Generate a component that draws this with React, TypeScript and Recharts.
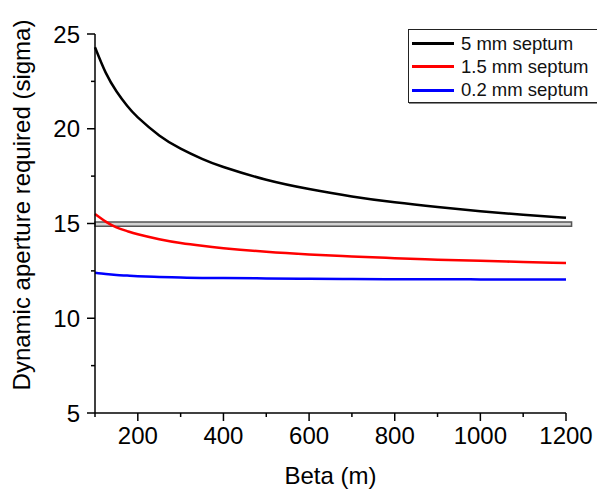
import React from 'react';
import { LineChart, Line, XAxis, YAxis, ReferenceArea } from 'recharts';

const beta = [100, 125, 150, 175, 200, 250, 300, 350, 400, 500, 600, 700, 800, 900, 1000, 1100, 1200];
const septum5 = [24.3, 22.96, 21.98, 21.21, 20.6, 19.65, 18.95, 18.41, 17.98, 17.31, 16.82, 16.43, 16.12, 15.87, 15.65, 15.46, 15.3];
const septum15 = [15.5, 15.1, 14.8, 14.6, 14.43, 14.17, 13.97, 13.82, 13.7, 13.51, 13.37, 13.26, 13.17, 13.09, 13.03, 12.97, 12.92];
const septum02 = [12.4, 12.33, 12.28, 12.25, 12.22, 12.18, 12.15, 12.13, 12.12, 12.1, 12.08, 12.07, 12.06, 12.06, 12.05, 12.05, 12.05];

const seriesNames = ['5 mm septum', '1.5 mm septum', '0.2 mm septum'];
const seriesKeys = ['s5', 's15', 's02'];
const seriesColors = ['#000000', '#ff0000', '#0000ff'];

const xTicks = [100, 200, 300, 400, 500, 600, 700, 800, 900, 1000, 1100, 1200];
const xLabelled = [200, 400, 600, 800, 1000, 1200];
const yTicks = [5, 7.5, 10, 12.5, 15, 17.5, 20, 22.5, 25];
const yLabelled = [5, 10, 15, 20, 25];

// threshold band around 15 sigma
const band = { x1: 100, x2: 1213, y1: 14.86, y2: 15.08 };

const data = beta.map((b, i) => ({
  beta: b,
  s5: septum5[i],
  s15: septum15[i],
  s02: septum02[i],
}));

const FONT = '"Liberation Sans", Arial, sans-serif';
const TICK = 8;
const MINOR = 4;
const XMARGIN = 6;
const YMARGIN = 7;

const XTick = (props: any) => {
  const { x, y, payload } = props;
  const axisY = y - TICK - XMARGIN;
  const major = xLabelled.includes(payload.value);
  return (
    <g>
      <line x1={x} x2={x} y1={axisY} y2={axisY + (major ? TICK : MINOR)} stroke="#000" strokeWidth={1.5} />
      {major && (
        <text x={x} y={y} dy="0.71em" textAnchor="middle" fontSize={24} fontFamily={FONT} fill="#000">
          {payload.value}
        </text>
      )}
    </g>
  );
};

const YTick = (props: any) => {
  const { x, y, payload } = props;
  const axisX = x + TICK + YMARGIN;
  const major = yLabelled.includes(payload.value);
  return (
    <g>
      <line x1={axisX} x2={axisX - (major ? TICK : MINOR)} y1={y} y2={y} stroke="#000" strokeWidth={1.5} />
      {major && (
        <text x={x} y={y} dy="0.355em" textAnchor="end" fontSize={24} fontFamily={FONT} fill="#000">
          {payload.value}
        </text>
      )}
    </g>
  );
};

const LegendBox = () => (
  <div
    style={{
      position: 'absolute',
      left: 408,
      top: 29,
      width: 200,
      height: 74,
      border: '1.5px solid #222',
      boxShadow: '1px 1px 0 #888',
      background: '#fff',
      padding: '2px 0 0 3px',
      boxSizing: 'border-box',
    }}
  >
    {seriesNames.map((name, i) => (
      <div key={name} style={{ display: 'flex', alignItems: 'center', height: 23.3 }}>
        <div style={{ width: 42, height: 3, flexShrink: 0, background: seriesColors[i], marginRight: 7 }} />
        <span style={{ fontFamily: FONT, fontSize: 18.5, color: '#111', whiteSpace: 'nowrap', flexShrink: 0 }}>{name}</span>
      </div>
    ))}
  </div>
);

export default function App() {
  return (
    <div style={{ position: 'absolute', left: 0, top: 0, width: 597, height: 489, background: '#fff', overflow: 'hidden' }}>
      <LineChart width={597} height={489} data={data} margin={{ top: 34, right: 31, left: 0, bottom: 0 }}>
        <XAxis
          dataKey="beta"
          type="number"
          domain={[100, 1200]}
          ticks={xTicks}
          interval={0}
          height={76}
          tickSize={TICK}
          tickMargin={XMARGIN}
          tickLine={false}
          axisLine={{ stroke: '#000', strokeWidth: 1.5 }}
          tick={<XTick />}
          label={{ value: 'Beta (m)', position: 'insideBottom', offset: 5, fontSize: 24, fontFamily: FONT, fill: '#000' }}
        />
        <YAxis
          type="number"
          domain={[5, 25]}
          ticks={yTicks}
          interval={0}
          width={95}
          tickSize={TICK}
          tickMargin={YMARGIN}
          tickLine={false}
          axisLine={{ stroke: '#000', strokeWidth: 1.5 }}
          tick={<YTick />}
          label={{
            content: () => (
              <text
                x={30}
                y={205}
                transform="rotate(-90 30 205)"
                textAnchor="middle"
                fontSize={24}
                fontFamily={FONT}
                fill="#000"
              >
                Dynamic aperture required (sigma)
              </text>
            ),
          }}
        />
        <ReferenceArea
          x1={band.x1}
          x2={band.x2}
          y1={band.y1}
          y2={band.y2}
          ifOverflow="visible"
          fill="#d3d3d3"
          fillOpacity={1}
          stroke="#555"
          strokeWidth={1.5}
        />
        {seriesKeys.map((k, i) => (
          <Line
            key={k}
            type="natural"
            dataKey={k}
            name={seriesNames[i]}
            stroke={seriesColors[i]}
            strokeWidth={2.5}
            dot={false}
            isAnimationActive={false}
          />
        ))}
      </LineChart>
      <LegendBox />
    </div>
  );
}
